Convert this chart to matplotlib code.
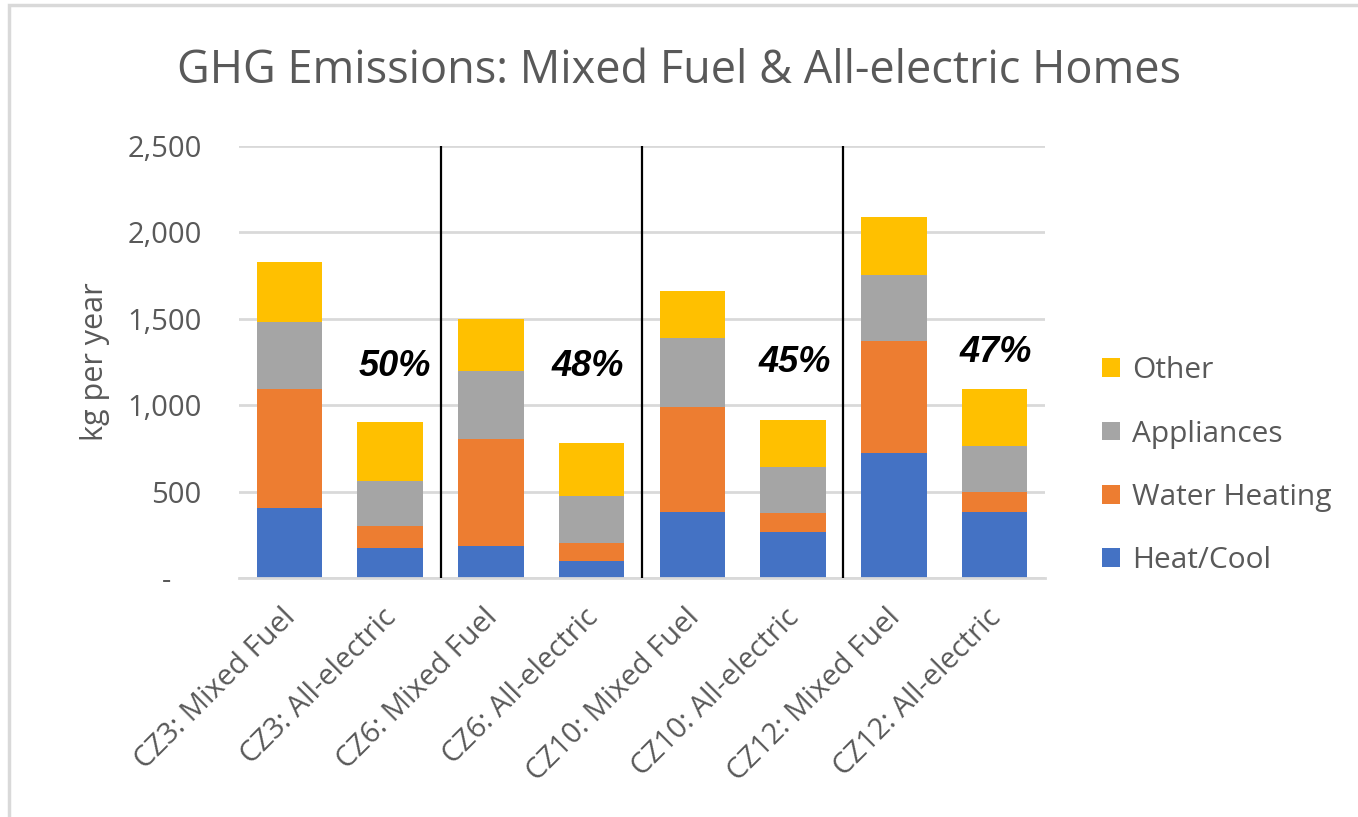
import matplotlib.pyplot as plt
import numpy as np
from matplotlib.patches import Rectangle
from matplotlib.transforms import ScaledTranslation

# bar categories (left to right)
categories = ["CZ3: Mixed Fuel", "CZ3: All-electric",
              "CZ6: Mixed Fuel", "CZ6: All-electric",
              "CZ10: Mixed Fuel", "CZ10: All-electric",
              "CZ12: Mixed Fuel", "CZ12: All-electric"]

# stacked components, kg per year
heat_cool = [404, 173, 185, 100, 384, 269, 721, 384]
water_heating = [692, 129, 617, 105, 606, 106, 648, 116]
appliances = [384, 259, 398, 271, 398, 269, 386, 263]
other = [346, 344, 301, 306, 273, 273, 335, 333]

# reduction labels for each climate zone
reductions = ["50%", "48%", "45%", "47%"]

series = [("Heat/Cool", heat_cool, "#4472C4"),
          ("Water Heating", water_heating, "#ED7D31"),
          ("Appliances", appliances, "#A5A5A5"),
          ("Other", other, "#FFC000")]

txt_gray = "#595959"
font = "Open Sans"

fig = plt.figure(figsize=(13.58, 8.17), dpi=100)
ax = fig.add_axes([0.176, 0.2925, 0.5935, 0.5288])

x = np.arange(len(categories))
bottom = np.zeros(len(categories))
handles = []
for name, vals, col in series:
    b = ax.bar(x, vals, 0.65, bottom=bottom, color=col, label=name, zorder=2)
    handles.append(b)
    bottom = bottom + np.array(vals)

ax.set_xlim(-0.5, len(categories) - 0.5)
ax.set_ylim(0, 2500)
yt = [0, 500, 1000, 1500, 2000, 2500]
ax.set_yticks(yt)
ax.set_yticklabels(["-    "] + ["{:,}".format(v) for v in yt[1:]],
                   fontsize=21, color=txt_gray, family=font)
ax.tick_params(axis="y", length=0, pad=27)
ax.tick_params(axis="x", length=0, pad=18)
ax.set_xticks(x)
ax.set_xticklabels(categories, rotation=45, ha="right", rotation_mode="anchor",
                   fontsize=21, color=txt_gray, family=font)
shift = ScaledTranslation(-8 / 100, 0, fig.dpi_scale_trans)
for lab in ax.get_xticklabels():
    lab.set_transform(lab.get_transform() + shift)
ax.grid(axis="y", color="#D9D9D9", lw=2, zorder=0)
for s in ["top", "left", "right"]:
    ax.spines[s].set_visible(False)
ax.spines["bottom"].set_color("#D9D9D9")
ax.spines["bottom"].set_linewidth(2)

# separators between climate zones
for sx in [1.5, 3.5, 5.5]:
    ax.axvline(sx, color="black", lw=1.6, zorder=3)

# percent labels next to all-electric bars
pct_x = [1.05, 2.96, 5.02, 7.01]
pct_y = [1225, 1225, 1245, 1305]
for px, py, t in zip(pct_x, pct_y, reductions):
    ax.text(px, py, t, ha="center", va="center", fontsize=26,
            fontweight="bold", fontstyle="italic", family="Liberation Sans",
            color="black", zorder=4)

ax.set_ylabel("kg per year", fontsize=22, color=txt_gray, family=font, labelpad=12)

fig.text(0.5, 0.898, "GHG Emissions: Mixed Fuel & All-electric Homes",
         ha="center", va="baseline", fontsize=32.5, color=txt_gray, family=font)

leg = fig.legend(handles[::-1], [s[0] for s in series][::-1],
                 loc="center left", bbox_to_anchor=(0.792, 0.43),
                 frameon=False, handlelength=0.6, handleheight=0.6,
                 labelspacing=1.15, handletextpad=0.4,
                 prop={"family": font, "size": 21.5})
for t in leg.get_texts():
    t.set_color(txt_gray)

# chart border (left/top edges visible in the reference)
fig.patches.append(Rectangle((9 / 1358, -0.05), 1.2, 1 - 5 / 817 + 0.05,
                             transform=fig.transFigure, fill=False,
                             edgecolor="#D9D9D9", lw=2.5))

fig.savefig("out.png", dpi=100)
